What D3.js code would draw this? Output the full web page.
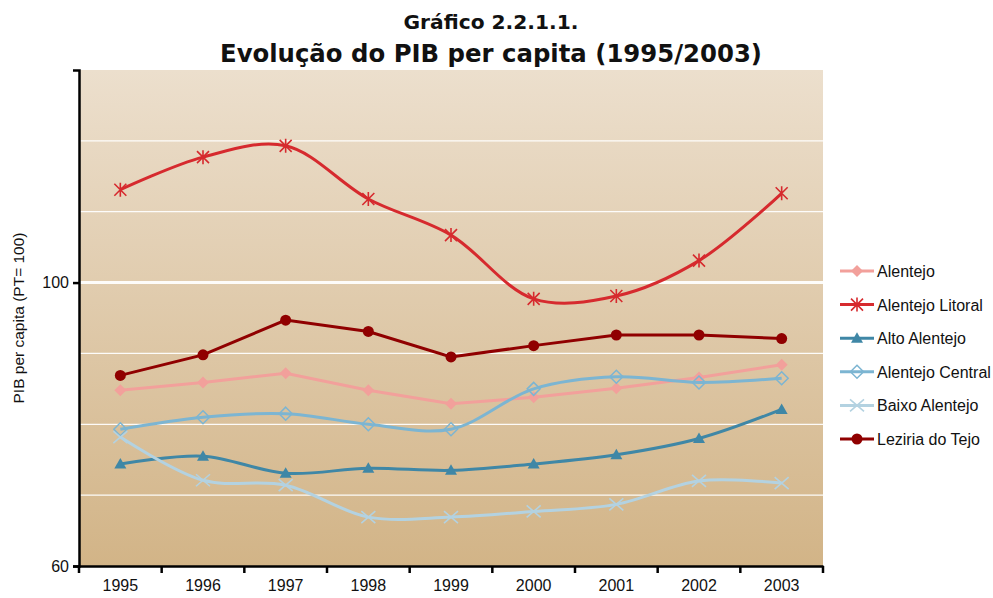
<!DOCTYPE html>
<html><head><meta charset="utf-8">
<script src="https://cdn.jsdelivr.net/npm/d3@7"></script>
<style>body{margin:0;background:#fff}svg{display:block}</style>
</head><body>
<svg id="c" width="993" height="598"></svg>
<script>
const years = ["1995","1996","1997","1998","1999","2000","2001","2002","2003"];
const alentejo        = [84.8, 85.9, 87.2, 84.8, 82.9, 83.8, 85.1, 86.6, 88.4];
const alentejoLitoral = [113.1, 117.7, 119.3, 111.8, 106.7, 97.7, 98.1, 103.1, 112.6];
const altoAlentejo    = [74.4, 75.5, 73.1, 73.8, 73.5, 74.4, 75.7, 78.0, 82.1];
const alentejoCentral = [79.3, 81.0, 81.5, 80.0, 79.3, 85.0, 86.7, 85.9, 86.5];
const baixoAlentejo   = [78.2, 72.1, 71.4, 66.9, 66.9, 67.7, 68.7, 72.0, 71.7];
const leziriaTejo     = [86.9, 89.8, 94.7, 93.1, 89.5, 91.1, 92.6, 92.6, 92.1];
const yTickLabels = [60, 100];
const gridValues = [70, 80, 90, 100, 110, 120];

const series = [
  {name:"Alentejo", values:alentejo, color:"#f2a09b", marker:"diamond", smooth:false},
  {name:"Alentejo Litoral", values:alentejoLitoral, color:"#d62a2e", marker:"asterisk", smooth:true},
  {name:"Alto Alentejo", values:altoAlentejo, color:"#3f87a6", marker:"triangle", smooth:true},
  {name:"Alentejo Central", values:alentejoCentral, color:"#7cb5d2", marker:"hdiamond", smooth:true},
  {name:"Baixo Alentejo", values:baixoAlentejo, color:"#b3d2e1", marker:"x", smooth:true},
  {name:"Leziria do Tejo", values:leziriaTejo, color:"#900000", marker:"circle", smooth:false}
];

const svg = d3.select("#c");
const L=79, R=823, T=70, B=566;
const x = d3.scaleBand().domain(years).range([L,R]);
const y = d3.scaleLinear().domain([60,130]).range([B,T]);

const defs = svg.append("defs");
const g = defs.append("linearGradient").attr("id","bg").attr("x1",0).attr("y1",0).attr("x2",0).attr("y2",1);
g.append("stop").attr("offset","0%").attr("stop-color","#ecdfcd");
g.append("stop").attr("offset","100%").attr("stop-color","#d2b487");
svg.append("rect").attr("x",L).attr("y",T).attr("width",R-L).attr("height",B-T).attr("fill","url(#bg)");

svg.append("g").selectAll("line").data(gridValues).join("line")
  .attr("x1",L).attr("x2",R).attr("y1",d=>y(d)).attr("y2",d=>y(d))
  .attr("stroke","#fff").attr("stroke-width",d=>d===100?3:1.2).attr("opacity",0.95);

// Titles
svg.append("text").attr("x",491).attr("y",29).attr("text-anchor","middle")
  .attr("font-family","DejaVu Sans").attr("font-weight","bold").attr("font-size",19)
  .attr("fill","#111").attr("textLength",175).attr("lengthAdjust","spacingAndGlyphs")
  .text("Gráfico 2.2.1.1.");
svg.append("text").attr("x",491).attr("y",62).attr("text-anchor","middle")
  .attr("font-family","DejaVu Sans").attr("font-weight","bold").attr("font-size",24)
  .attr("fill","#111").attr("textLength",542).attr("lengthAdjust","spacingAndGlyphs")
  .text("Evolução do PIB per capita (1995/2003)");

// Axes
const yAxis = d3.axisLeft(y).tickValues(yTickLabels).tickSize(6).tickFormat(d3.format("d"));
const ya = svg.append("g").attr("transform",`translate(${L},0)`).call(yAxis);
ya.select(".domain").attr("stroke","#000").attr("stroke-width",2.5);
ya.selectAll(".tick line").attr("stroke","#000").attr("stroke-width",2.5);
ya.selectAll(".tick text").attr("font-family","Liberation Sans").attr("font-size",16).attr("fill","#111").attr("x",-10);

const xa = svg.append("g").attr("transform",`translate(0,${B})`).call(d3.axisBottom(x).tickSize(0));
xa.select(".domain").attr("stroke","#000").attr("stroke-width",2.5);
xa.selectAll(".tick text").attr("font-family","Liberation Sans").attr("font-size",16).attr("fill","#111").attr("y",0).attr("dy",25);
const bounds = years.map(d=>x(d)).concat([x(years[years.length-1])+x.bandwidth()]);
xa.append("g").selectAll("line").data(bounds).join("line")
  .attr("x1",d=>d).attr("x2",d=>d).attr("y1",0).attr("y2",7).attr("stroke","#000").attr("stroke-width",2.5);

svg.append("text").attr("transform","translate(24,318) rotate(-90)").attr("text-anchor","middle")
  .attr("font-family","Liberation Sans").attr("font-size",15.5).attr("fill","#111")
  .text("PIB per capita (PT= 100)");

function drawMarker(sel, type, color){
  if(type==="circle"){ sel.append("circle").attr("r",5.5).attr("fill",color); }
  else if(type==="diamond"){ sel.append("path").attr("d","M0,-6L6,0L0,6L-6,0Z").attr("fill",color); }
  else if(type==="hdiamond"){ sel.append("path").attr("d","M0,-6.5L6.5,0L0,6.5L-6.5,0Z").attr("fill","none").attr("stroke",color).attr("stroke-width",1.5); }
  else if(type==="triangle"){ sel.append("path").attr("d","M0,-6L6,4.5L-6,4.5Z").attr("fill",color); }
  else if(type==="x"){ sel.append("path").attr("d","M-7,-6L7,6M-7,6L7,-6").attr("stroke",color).attr("stroke-width",1.6).attr("fill","none"); }
  else if(type==="asterisk"){ sel.append("path").attr("d","M-6,-6L6,6M-6,6L6,-6M0,-7L0,7").attr("stroke",color).attr("stroke-width",1.6).attr("fill","none"); }
}

const cx = d=>x(d)+x.bandwidth()/2;
series.forEach(s=>{
  const line = d3.line().x((d,i)=>cx(years[i])).y(d=>y(d))
    .curve(s.smooth?d3.curveCatmullRom.alpha(0.5):d3.curveLinear);
  svg.append("path").datum(s.values).attr("d",line).attr("fill","none")
    .attr("stroke",s.color).attr("stroke-width",3);
  s.values.forEach((v,i)=>{
    const m = svg.append("g").attr("transform",`translate(${cx(years[i])},${y(v)})`);
    drawMarker(m,s.marker,s.color);
  });
});

// Legend
const leg = svg.append("g");
series.forEach((s,i)=>{
  const yy = 271 + i*33.6;
  leg.append("line").attr("x1",840).attr("x2",874).attr("y1",yy).attr("y2",yy).attr("stroke",s.color).attr("stroke-width",3);
  drawMarker(leg.append("g").attr("transform",`translate(857,${yy})`), s.marker, s.color);
  leg.append("text").attr("x",877).attr("y",yy+6).attr("font-family","Liberation Sans").attr("font-size",16)
    .attr("fill","#111").text(s.name);
});
</script>
</body></html>
